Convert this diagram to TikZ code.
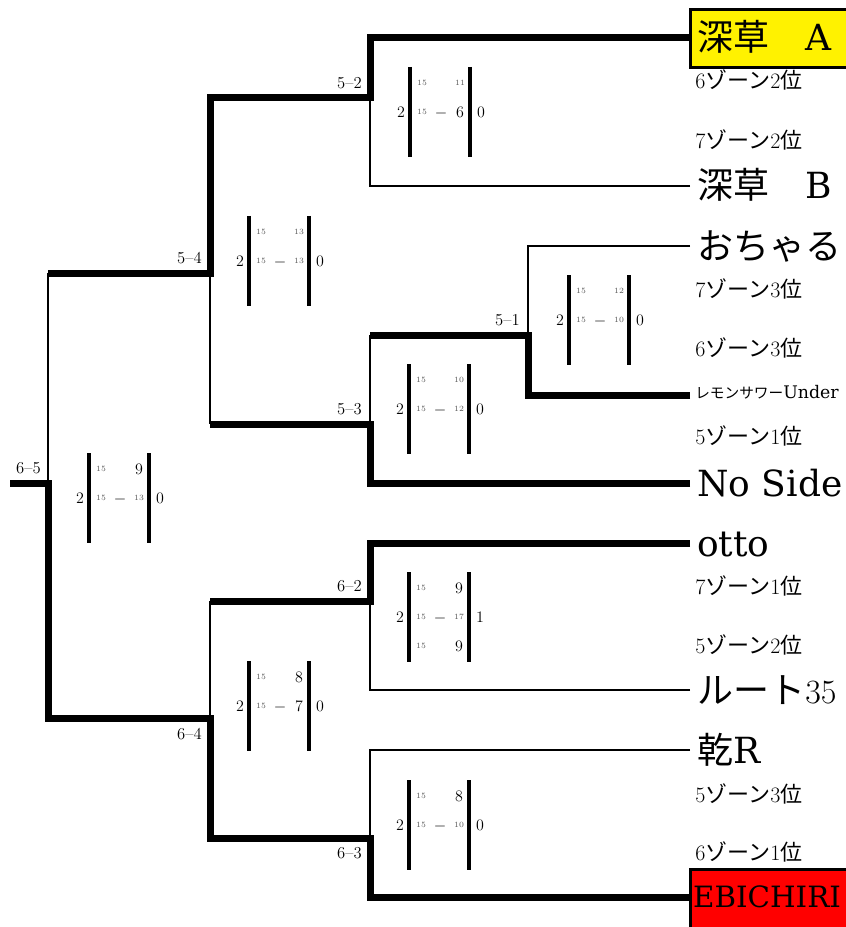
\documentclass[tikz,border=0pt]{standalone}
\usepackage{fontspec}
\newfontfamily\cjk{Noto Sans CJK JP}
\newfontfamily\lat{DejaVu Serif}
\newcommand\mscore[6]{%
  \begin{scope}[shift={(#2,#3)}]
    \draw[sbar] (0,-45) -- (0,45);
    \draw[sbar] (60,-45) -- (60,45);
    \node[sbig] (#1w) at (-9,0) {#4};
    \node[sbig] (#1l) at (71,0) {#5};
    #6
  \end{scope}}
\newcommand\srowA[4]{%
  \node[stiny] (#1a) at (12,#2) {15};
  \node[#3] (#1c) at (50,#2) {#4};}
\newcommand\srowB[4]{%
  \node[stiny] (#1a) at (12,#2) {15};
  \node[sbig] (#1b) at (31,#2) {$-$};
  \node[#3] (#1c) at (50,#2) {#4};}
\newcommand\zl[2]{#1{\cjk ゾーン}#2{\cjk 位}}
\begin{document}
\begin{tikzpicture}[x=0.75pt,y=-0.75pt,
  winline/.style={line width=5.25pt, line join=miter},
  loseline/.style={line width=1.5pt},
  sbar/.style={line width=3pt},
  mlabel/.style={anchor=east, inner sep=0pt, font=\fontsize{12.5}{14}\selectfont},
  team/.style={anchor=base west, inner sep=0pt, yshift=-9.75pt, font=\fontsize{27}{30}\selectfont},
  zone/.style={anchor=base west, inner sep=0pt, yshift=-5.6pt, font=\fontsize{16.5}{18}\selectfont},
  sbig/.style={anchor=base, inner sep=0pt, yshift=-4.1pt, font=\fontsize{12}{14}\selectfont},
  stiny/.style={anchor=base, inner sep=0pt, yshift=-2pt, text=black!65, font=\fontsize{6}{7}\selectfont},
]
\useasboundingbox (0,0) rectangle (845,927);
\fill[white] (0,0) rectangle (845,927);

% team line ends
\coordinate (tA) at (690,38);
\coordinate (tB) at (690,186);
\coordinate (tO) at (690,246);
\coordinate (tL) at (690,395);
\coordinate (tN) at (690,483);
\coordinate (tT) at (690,543);
\coordinate (tR) at (690,690);
\coordinate (tI) at (690,750);
\coordinate (tE) at (690,897);
% match junctions
\coordinate (m52) at (370,98);
\coordinate (m51) at (528,335);
\coordinate (j51) at (370,335);
\coordinate (m53) at (370,424);
\coordinate (j53) at (210,424);
\coordinate (m54) at (210,273);
\coordinate (j54) at (48,273);
\coordinate (m62) at (370,601);
\coordinate (j62) at (210,601);
\coordinate (m63) at (370,838);
\coordinate (m64) at (210,718);
\coordinate (m65) at (48,483);
\coordinate (champ) at (10,483);

% boxes
\draw[line width=2.25pt, fill=yellow] (690.5,9.5) rectangle (852,67.5);
\draw[line width=2.25pt, fill=red] (690.5,869.5) rectangle (852,935);

% losing (thin) lines
\draw[loseline] (tB) -| (m52);
\draw[loseline] (tO) -| (m51);
\draw[loseline] (j51) -- (m53);
\draw[loseline] (m54) -- (j53);
\draw[loseline] (j54) -- (m65);
\draw[loseline] (tR) -| (m62);
\draw[loseline] (j62) -- (m64);
\draw[loseline] (tI) -| (m63);

% winning (thick) lines
\draw[winline] (tA) -| (m52) -| (m54) -- (j54);
\draw[winline] (tL) -| (m51) -- (j51);
\draw[winline] (tN) -| (m53) -- (j53);
\draw[winline] (tT) -| (m62) -- (j62);
\draw[winline] (tE) -| (m63) -| (m64) -| (m65) -- (champ);

% match labels
\node[mlabel] (l65) at (41,468) {6--5};
\node[mlabel] (l54) at (202,258) {5--4};
\node[mlabel] (l52) at (362,83) {5--2};
\node[mlabel] (l51) at (520,320) {5--1};
\node[mlabel] (l53) at (362,409) {5--3};
\node[mlabel] (l62) at (362,586) {6--2};
\node[mlabel] (l64) at (202,734) {6--4};
\node[mlabel] (l63) at (362,853) {6--3};

% scores
\mscore{s52}{410}{112}{2}{0}{\srowA{s52r1}{-29}{stiny}{11}\srowB{s52r2}{0}{sbig}{6}}
\mscore{s54}{249}{261}{2}{0}{\srowA{s54r1}{-29}{stiny}{13}\srowB{s54r2}{0}{stiny}{13}}
\mscore{s51}{569}{320}{2}{0}{\srowA{s51r1}{-29}{stiny}{12}\srowB{s51r2}{0}{stiny}{10}}
\mscore{s53}{409}{409}{2}{0}{\srowA{s53r1}{-29}{stiny}{10}\srowB{s53r2}{0}{stiny}{12}}
\mscore{s65}{89}{498}{2}{0}{\srowA{s65r1}{-29}{sbig}{9}\srowB{s65r2}{0}{stiny}{13}}
\mscore{s62}{409}{617}{2}{1}{\srowA{s62r1}{-29}{sbig}{9}\srowB{s62r2}{0}{stiny}{17}\srowA{s62r3}{29}{sbig}{9}}
\mscore{s64}{249}{706}{2}{0}{\srowA{s64r1}{-29}{sbig}{8}\srowB{s64r2}{0}{sbig}{7}}
\mscore{s63}{409}{825}{2}{0}{\srowA{s63r1}{-29}{sbig}{8}\srowB{s63r2}{0}{stiny}{10}}

% team names
\node[team] (nA) at (697,38) {{\cjk 深草　}{\lat A}};
\node[team] (nB) at (697,186) {{\cjk 深草　}{\lat B}};
\node[team] (nO) at (697,246) {\cjk おちゃる};
\node[anchor=base west, inner sep=0pt] (nL) at (695,398.5) {{\cjk\fontsize{11}{13}\selectfont レモンサワー}{\lat\fontsize{13}{15}\selectfont Under}};
\node[team] (nN) at (697,483) {\lat No Side};
\node[team] (nT) at (697,543) {\lat otto};
\node[team] (nR) at (697,690) {{\cjk ルート}{\fontsize{25.5}{28}\selectfont 35}};
\node[team] (nI) at (697,750) {{\cjk 乾}{\lat R}};
\node[inner sep=0pt, font=\lat\fontsize{22}{24}\selectfont] (nE) at (767,897) {EBICHIRI};

% zone labels
\node[zone] (z1) at (695,81) {\zl{6}{2}};
\node[zone] (z2) at (695,141) {\zl{7}{2}};
\node[zone] (z3) at (695,290) {\zl{7}{3}};
\node[zone] (z4) at (695,349) {\zl{6}{3}};
\node[zone] (z5) at (695,437) {\zl{5}{1}};
\node[zone] (z6) at (695,587) {\zl{7}{1}};
\node[zone] (z7) at (695,646) {\zl{5}{2}};
\node[zone] (z8) at (695,795) {\zl{5}{3}};
\node[zone] (z9) at (695,853) {\zl{6}{1}};
\end{tikzpicture}
\end{document}
